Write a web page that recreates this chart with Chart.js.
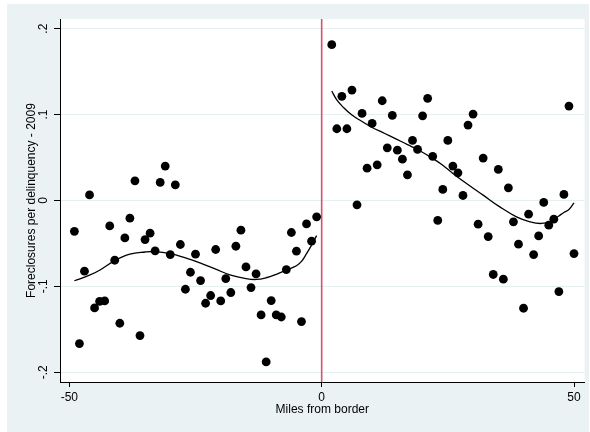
<!DOCTYPE html>
<html>
<head>
<meta charset="utf-8">
<script src="https://cdn.jsdelivr.net/npm/chart.js@4"></script>
<style>
  html, body { margin: 0; padding: 0; background: #ffffff; }
  #panel { position: absolute; left: 7px; top: 4px; width: 582px; height: 428px; background: #eaf2f3; }
  canvas { display: block; }
</style>
</head>
<body>
<div id="panel"><canvas id="chart" width="582" height="428"></canvas></div>
<script>
// Binned foreclosure shares by distance to the border (miles)
const leftMiles = [-49,-48,-47,-46,-45,-44,-43,-42,-41,-40,-39,-38,-37,-36,-35,-34,-33,-32,-31,-30,
  -29,-28,-27,-26,-25,-24,-23,-22,-21,-20,-19,-18,-17,-16,-15,-14,-13,-12,-11,-10,-9,-8,-7,-6,-5,-4,-3,-2,-1];
const leftShare = [-0.036,-0.1667,-0.0824,0.0065,-0.1252,-0.1174,-0.117,-0.0296,-0.0696,-0.143,
  -0.0436,-0.0206,0.0229,-0.1573,-0.0455,-0.0381,-0.0587,0.021,0.040,-0.063,
  0.0182,-0.0513,-0.1034,-0.0836,-0.0626,-0.0933,-0.1197,-0.1107,-0.0571,-0.117,
  -0.091,-0.1072,-0.0533,-0.0346,-0.0774,-0.1014,-0.0855,-0.1333,-0.188,-0.1166,
  -0.1333,-0.1357,-0.0805,-0.0373,-0.0591,-0.141,-0.0273,-0.0474,-0.0191];

const rightMiles = [2,3,4,5,6,7,8,9,10,11,12,13,14,15,16,17,18,19,20,21,22,23,24,25,26,27,28,29,30,
  31,32,33,34,35,36,37,38,39,40,41,42,43,44,45,46,47,48,49,50];
const rightShare = [0.1814,0.0835,0.1212,0.0835,0.1285,-0.0051,0.1014,0.0376,0.0897,0.0415,
  0.1161,0.0613,0.099,0.0586,0.0481,0.0298,0.0699,0.0594,0.0986,0.1189,
  0.0513,-0.0233,0.0128,0.0699,0.040,0.0322,0.0058,0.0878,0.1006,-0.0276,
  0.0493,-0.042,-0.0862,0.0361,-0.0917,0.0147,-0.0249,-0.0509,-0.1255,-0.016,
  -0.063,-0.0413,-0.0023,-0.0288,-0.0218,-0.1061,0.007,0.1099,-0.0618];

// Smoothed fits on each side of the border
const leftFitMiles = [-49,-46,-44,-41,-38,-35,-33,-30,-27,-24,-21,-18,-15,-13,-11,-9,-7,-5,-4,-3,-2,-1];
const leftFitValues = [-0.0935,-0.087,-0.0812,-0.070,-0.0625,-0.060,-0.0595,-0.062,-0.067,-0.073,
  -0.080,-0.087,-0.091,-0.092,-0.090,-0.086,-0.081,-0.076,-0.071,-0.062,-0.052,-0.041];
const rightFitMiles = [2,3,4.2,6,8,10,12.5,14.5,17,19,22,24,26,28.7,32,35.3,38.6,41.3,43.5,45.5,47,48,49,50];
const rightFitValues = [0.1274,0.117,0.109,0.0994,0.092,0.085,0.078,0.0723,0.065,0.0594,0.049,0.041,
  0.0315,0.0198,0.0062,-0.0075,-0.0191,-0.0249,-0.0268,-0.024,-0.018,-0.014,-0.0105,-0.0028];

const xTicks = [-50, 0, 50];
const xTickLabels = ['-50', '0', '50'];
const yTicks = [-0.2, -0.1, 0, 0.1, 0.2];
const yTickLabels = ['-.2', '-.1', '0', '.1', '.2'];
const xTitle = 'Miles from border';
const yTitle = 'Foreclosures per delinquency - 2009';
const cutoff = 0;

const X_MIN = -51.85, X_MAX = 52.1, Y_MIN = -0.2114, Y_MAX = 0.2113;

const pts = (xs, ys) => xs.map((x, i) => ({ x: x, y: ys[i] }));

const FONT = '12px "Liberation Sans", Arial, sans-serif';

const framePlugin = {
  id: 'frame',
  beforeDraw(chart) {
    const { ctx, chartArea: a } = chart;
    ctx.save();
    ctx.fillStyle = '#ffffff';
    ctx.fillRect(a.left, a.top, a.right - a.left, a.bottom - a.top);
    ctx.restore();
  },
  afterDraw(chart) {
    const { ctx, chartArea: a, scales } = chart;
    const xs = scales.x, ys = scales.y;
    ctx.save();
    ctx.fillStyle = '#000000';
    ctx.font = FONT;
    // x tick labels
    ctx.textAlign = 'center';
    ctx.textBaseline = 'middle';
    xTicks.forEach((v, i) => {
      ctx.fillText(xTickLabels[i], xs.getPixelForValue(v), a.bottom + 16);
    });
    // x title
    ctx.fillText(xTitle, (a.left + a.right) / 2, a.bottom + 28);
    // y tick labels, rotated
    yTicks.forEach((v, i) => {
      ctx.save();
      ctx.translate(a.left - 16.5, ys.getPixelForValue(v));
      ctx.rotate(-Math.PI / 2);
      ctx.fillText(yTickLabels[i], 0, 0);
      ctx.restore();
    });
    // y title
    ctx.save();
    ctx.translate(a.left - 28.5, (a.top + a.bottom) / 2);
    ctx.rotate(-Math.PI / 2);
    ctx.fillText(yTitle, 0, 0);
    ctx.restore();
    ctx.restore();
  }
};

new Chart(document.getElementById('chart'), {
  type: 'scatter',
  data: {
    datasets: [
      {
        data: [{ x: cutoff, y: Y_MIN }, { x: cutoff, y: Y_MAX }],
        showLine: true, borderColor: '#d8506a', borderWidth: 1.6,
        pointRadius: 0, order: 3
      },
      {
        data: pts(leftMiles, leftShare),
        pointRadius: 4.4, pointBackgroundColor: '#000000', pointBorderWidth: 0, order: 2
      },
      {
        data: pts(rightMiles, rightShare),
        pointRadius: 4.4, pointBackgroundColor: '#000000', pointBorderWidth: 0, order: 2
      },
      {
        data: pts(leftFitMiles, leftFitValues),
        showLine: true, borderColor: '#000000', borderWidth: 1.3,
        pointRadius: 0, tension: 0.4, order: 1
      },
      {
        data: pts(rightFitMiles, rightFitValues),
        showLine: true, borderColor: '#000000', borderWidth: 1.3,
        pointRadius: 0, tension: 0.4, order: 1
      }
    ]
  },
  options: {
    responsive: false,
    animation: false,
    devicePixelRatio: 1,
    layout: { padding: { top: 15, right: 4, left: 0, bottom: 0 } },
    plugins: { legend: { display: false }, tooltip: { enabled: false } },
    scales: {
      x: {
        type: 'linear', min: X_MIN, max: X_MAX,
        afterBuildTicks(s) { s.ticks = xTicks.map(v => ({ value: v })); },
        afterFit(s) { s.height = 50; },
        ticks: { display: false },
        grid: { drawOnChartArea: false, drawTicks: true, tickLength: 5, tickColor: '#000000' },
        border: { color: '#000000', width: 1 }
      },
      y: {
        type: 'linear', min: Y_MIN, max: Y_MAX,
        afterBuildTicks(s) { s.ticks = yTicks.map(v => ({ value: v })); },
        afterFit(s) { s.width = 53; },
        ticks: { display: false },
        grid: { color: '#e6eff0', lineWidth: 1, drawTicks: true, tickLength: 6, tickColor: '#000000' },
        border: { color: '#000000', width: 1 }
      }
    }
  },
  plugins: [framePlugin]
});
</script>
</body>
</html>
